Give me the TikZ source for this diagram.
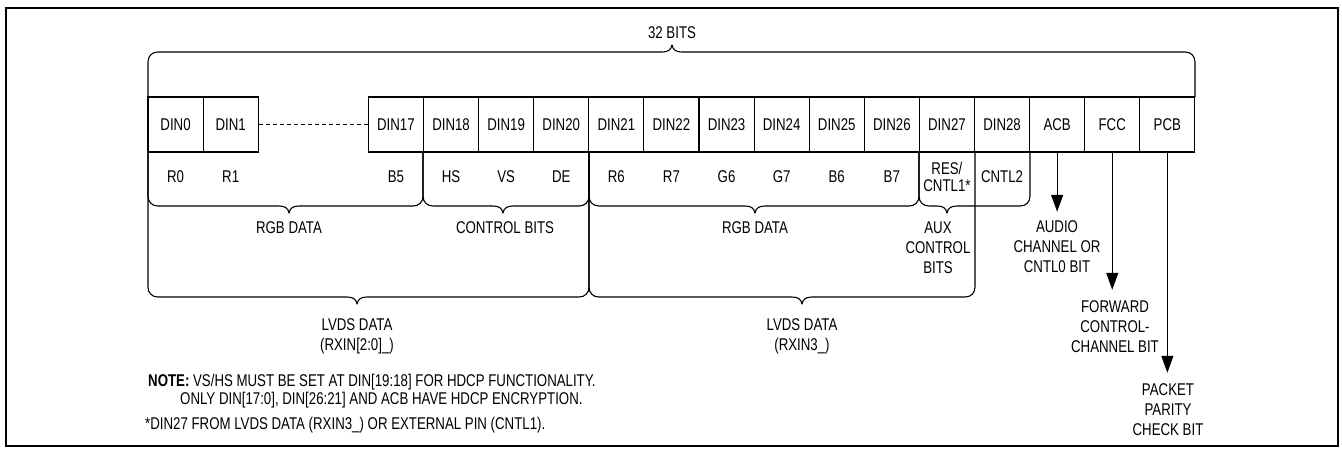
\documentclass[tikz,border=0pt]{standalone}
\usepackage{fontspec}
\setmainfont{Liberation Sans}[FakeStretch=0.78]
\usetikzlibrary{arrows.meta}
\tikzset{
  cell/.style={draw, line width=1.1pt, minimum width=55.1pt, minimum height=55pt, inner sep=0pt, anchor=center},
  lbl/.style={inner sep=2pt, align=center, font=\fontsize{17}{20}\selectfont},
  brc/.style={line width=1.1pt, line join=round},
  arr/.style={line width=1.1pt, -{Triangle[length=17pt,width=12pt]}},
}
\newcommand\brdown[5]{% x1 x2 xtip ytop ybot
  \draw[brc] (#1,#4) -- (#1,#5-10) .. controls (#1,#5-4) and (#1+4,#5) .. (#1+10,#5)
    -- (#3-10,#5) .. controls (#3-4,#5) and (#3-1,#5+2) .. (#3,#5+7)
    .. controls (#3+1,#5+2) and (#3+4,#5) .. (#3+10,#5)
    -- (#2-10,#5) .. controls (#2-4,#5) and (#2,#5-4) .. (#2,#5-10) -- (#2,#4);}
\begin{document}
\begin{tikzpicture}[x=1pt,y=-1pt]
\useasboundingbox (0,0) rectangle (1342,448);
\draw[line width=2.2pt] (6,8) rectangle (1338,446);
% cells
\foreach \i/\t in {0/DIN0,1/DIN1,4/DIN17,5/DIN18,6/DIN19,7/DIN20,8/DIN21,9/DIN22,10/DIN23,11/DIN24,12/DIN25,13/DIN26,14/DIN27,15/DIN28,16/ACB,17/FCC,18/PCB}
  \node[cell, font=\fontsize{17}{20}\selectfont] (c\i) at ({148+55.1*(\i+0.5)},124.5) {\t};
\draw[line width=1.1pt, dash pattern=on 4pt off 3pt] (c1.east) -- (c4.west);
% lower labels
\foreach \i/\t in {0/R0,1/R1,4/B5,5/HS,6/VS,7/DE,8/R6,9/R7,10/G6,11/G7,12/B6,13/B7,15/CNTL2}
  \node[lbl] (l\i) at ({148+55.1*(\i+0.5)},177) {\t};
\node[lbl, font=\fontsize{17}{16.5}\selectfont] (l14) at ({148+55.1*14.5},177) {RES/\\CNTL1*};
% top brace
\draw[brc] (148,97) -- (148,62) .. controls (148,56) and (152,52) .. (158,52)
  -- (662,52) .. controls (668,52) and (671,50) .. (672,45)
  .. controls (673,50) and (676,52) .. (682,52)
  -- (1185,52) .. controls (1191,52) and (1195,56) .. (1195,62) -- (1195,97);
\node[lbl] (bits) at (672,33) {32 BITS};
% second-level braces
\brdown{148}{423}{289}{152}{206}
\brdown{423}{589}{503}{152}{206}
\brdown{589}{919}{755}{152}{206}
\brdown{919}{1030}{947}{152}{206}
% big braces
\brdown{148}{589}{357}{152}{297}
\brdown{589}{975}{802}{152}{297}
% brace labels
\node[lbl] (rgb1) at (289,228) {RGB DATA};
\node[lbl] (ctl) at (505,228) {CONTROL BITS};
\node[lbl] (rgb2) at (755,228) {RGB DATA};
\node[lbl] (aux) at (938,248) {AUX\\CONTROL\\BITS};
\node[lbl] (lv1) at (357,336) {LVDS DATA\\(RXIN[2:0]\_)};
\node[lbl] (lv2) at (802,336) {LVDS DATA\\(RXIN3\_)};
% arrows
\node[lbl] (audio) at (1057,247) {AUDIO\\CHANNEL OR\\CNTL0 BIT};
\node[lbl] (fwd) at (1115,327) {FORWARD\\CONTROL-\\CHANNEL BIT};
\node[lbl] (pkt) at (1168,410) {PACKET\\PARITY\\CHECK BIT};
\draw[arr, shorten >=7pt] (c16.south) -- (c16.south |- audio.north);
\draw[arr, shorten >=9pt] (c17.south) -- (c17.south |- fwd.north);
\draw[arr, shorten >=9pt] (c18.south) -- (c18.south |- pkt.north);
% notes
\node[lbl, anchor=west, inner sep=0pt] (note1) at (148,382) {\textbf{NOTE:} VS/HS MUST BE SET AT DIN[19:18] FOR HDCP FUNCTIONALITY.};
\node[lbl, anchor=west, inner sep=0pt] (note2) at (180,400) {ONLY DIN[17:0], DIN[26:21] AND ACB HAVE HDCP ENCRYPTION.};
\node[lbl, anchor=west, inner sep=0pt] (note3) at (145,425) {*DIN27 FROM LVDS DATA (RXIN3\_) OR EXTERNAL PIN (CNTL1).};
\end{tikzpicture}
\end{document}
